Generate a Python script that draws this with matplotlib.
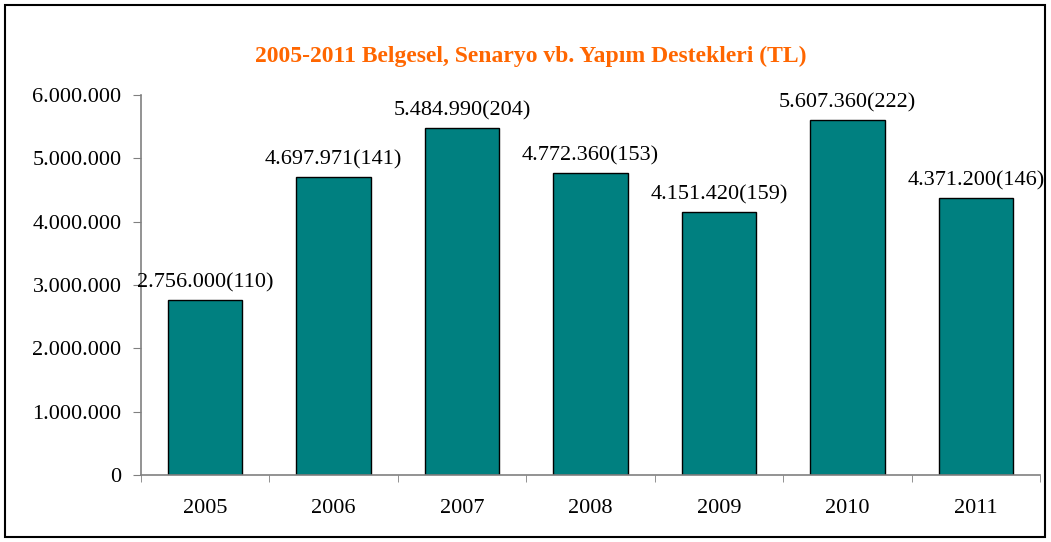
import matplotlib.pyplot as plt
from matplotlib.patches import Rectangle
from matplotlib.ticker import FuncFormatter

# veriler
yillar = ["2005", "2006", "2007", "2008", "2009", "2010", "2011"]
destek = [2756000, 4697971, 5484990, 4772360, 4151420, 5607360, 4371200]
proje_sayisi = [110, 141, 204, 153, 159, 222, 146]

plt.rcParams["font.family"] = ["Liberation Serif", "DejaVu Serif"]

fig = plt.figure(figsize=(10.51, 5.42), dpi=100)
ax = fig.add_axes([141 / 1051, 1 - 475 / 542, 899 / 1051, 380 / 542])

# dış çerçeve
fig.patches.append(Rectangle((5 / 1051, 5 / 542), 1040 / 1051, 532 / 542,
                             transform=fig.transFigure, fill=False,
                             edgecolor="black", linewidth=1.5))

x = list(range(len(yillar)))
ax.bar(x, destek, width=0.58, color="#008080", edgecolor="black", linewidth=1)

def nokta(v):
    return f"{int(v):,}".replace(",", ".")

for xi, v, n in zip(x, destek, proje_sayisi):
    ax.text(xi, v + 120000, f"{nokta(v)}({n})", ha="center", va="bottom", fontsize=16)

ax.set_xlim(-0.5, len(yillar) - 0.5)
ax.set_ylim(0, 6000000)
ax.set_yticks(range(0, 6000001, 1000000))
ax.yaxis.set_major_formatter(FuncFormatter(lambda v, p: nokta(v)))
ax.set_xticks(x)
ax.set_xticklabels(yillar)
ax.set_xticks([i - 0.5 for i in range(len(yillar) + 1)], minor=True)
ax.tick_params(axis="x", which="major", length=0, pad=17, labelsize=16)
ax.tick_params(axis="x", which="minor", length=5, color="#808080", direction="out")
ax.tick_params(axis="y", length=6, color="#808080", labelsize=16, pad=8)

for s in ["top", "right"]:
    ax.spines[s].set_visible(False)
for s in ["left", "bottom"]:
    ax.spines[s].set_color("#808080")
    ax.spines[s].set_linewidth(1.2)

fig.text(531 / 1051, 1 - 56 / 542, "2005-2011 Belgesel, Senaryo vb. Yapım Destekleri (TL)",
         ha="center", va="center", color="#FF6600", fontsize=17, fontweight="bold")

fig.savefig("out.png", dpi=100)
